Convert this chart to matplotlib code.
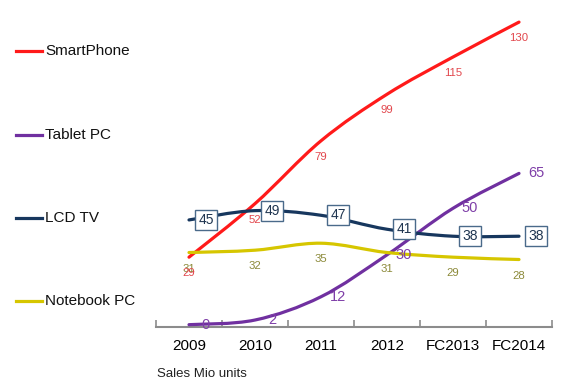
import numpy as np
import matplotlib
matplotlib.use("Agg")
import matplotlib.pyplot as plt
from matplotlib.path import Path
from matplotlib.patches import PathPatch

plt.rcParams['font.family'] = ['Liberation Sans', 'DejaVu Sans']

years = ['2009', '2010', '2011', '2012', 'FC2013', 'FC2014']
smartphone = [29, 52, 79, 99, 115, 130]
tablet = [0, 2, 12, 30, 50, 65]
lcd_tv = [45, 49, 47, 41, 38, 38]
notebook = [31, 32, 35, 31, 29, 28]

series_names = ['SmartPhone', 'Tablet PC', 'LCD TV', 'Notebook PC']
line_colors = ['#ff1a1a', '#7030a0', '#17375e', '#d6c600']

PX = 0.72  # pixel -> point at dpi 100


def smooth_path(x, y):
    # Catmull-Rom style bezier, like the spreadsheet "smoothed line"
    pts = np.column_stack([x, y]).astype(float)
    n = len(pts)
    verts = [pts[0]]
    codes = [Path.MOVETO]
    for i in range(n - 1):
        p0 = pts[i - 1] if i > 0 else pts[i]
        p1 = pts[i]
        p2 = pts[i + 1]
        p3 = pts[i + 2] if i + 2 < n else pts[i + 1]
        c1 = p1 + (p2 - p0) / 6.0
        c2 = p2 - (p3 - p1) / 6.0
        verts += [c1, c2, p2]
        codes += [Path.CURVE4] * 3
    return Path(verts, codes)


fig = plt.figure(figsize=(5.7, 3.84), dpi=100)
ax = fig.add_axes([156 / 570, 57 / 384, 396 / 570, 327 / 384])
x = np.arange(len(years))
ax.set_xlim(-0.5, 5.5)
ax.set_ylim(-1, 139.5)

data = [smartphone, tablet, lcd_tv, notebook]
for vals, col in zip(data, line_colors):
    ax.add_patch(PathPatch(smooth_path(x, vals), fill=False, edgecolor=col,
                           lw=2.3, capstyle='round', zorder=3))

# data labels
for xi, v in zip(x, smartphone):
    ax.annotate(str(v), (xi, v), xytext=(0, -16 * PX), textcoords='offset points',
                ha='center', va='center', fontsize=8.2, color='#e2474d', zorder=5)
for xi, v in zip(x, tablet):
    ax.annotate(str(v), (xi, v), xytext=(17 * PX, 0), textcoords='offset points',
                ha='center', va='center', fontsize=10.5, color='#7f3fa8', zorder=5)
for xi, v in zip(x, notebook):
    ax.annotate(str(v), (xi, v), xytext=(0, -16 * PX), textcoords='offset points',
                ha='center', va='center', fontsize=8.2, color='#8c8a3a', zorder=4)
for xi, v in zip(x, lcd_tv):
    ax.annotate(str(v), (xi, v), xytext=(17 * PX, 0), textcoords='offset points',
                ha='center', va='center', fontsize=10, color='#1f3550', zorder=6,
                bbox=dict(boxstyle='square,pad=0.22', fc='white', ec='#4a6a8a', lw=1))

# axis styling
for s in ['top', 'right', 'left']:
    ax.spines[s].set_visible(False)
ax.spines['bottom'].set_color('#8c8c8c')
ax.spines['bottom'].set_linewidth(1.5)
ax.set_yticks([])
ax.set_xticks(x)
ax.set_xticklabels(years, fontsize=11)
ax.tick_params(axis='x', which='major', length=0, pad=9)
ax.set_xticks(np.arange(-0.5, 6, 1), minor=True)
ax.tick_params(axis='x', which='minor', length=5, direction='in', color='#8c8c8c', width=1.2)

# legend on the left
legend_y = [51, 135, 218, 301]
for name, col, py in zip(series_names, line_colors, legend_y):
    yf = 1 - py / 384
    fig.add_artist(plt.Line2D([16 / 570, 42 / 570], [yf, yf], color=col, lw=2.3,
                              transform=fig.transFigure))
    fig.text(45 / 570, yf, name, fontsize=11, va='center', ha='left', color='#111111')

fig.text(157 / 570, 1 - 374 / 384, 'Sales Mio units', fontsize=9.5, va='center',
         ha='left', color='#222222')

fig.savefig('out.png', dpi=100)
